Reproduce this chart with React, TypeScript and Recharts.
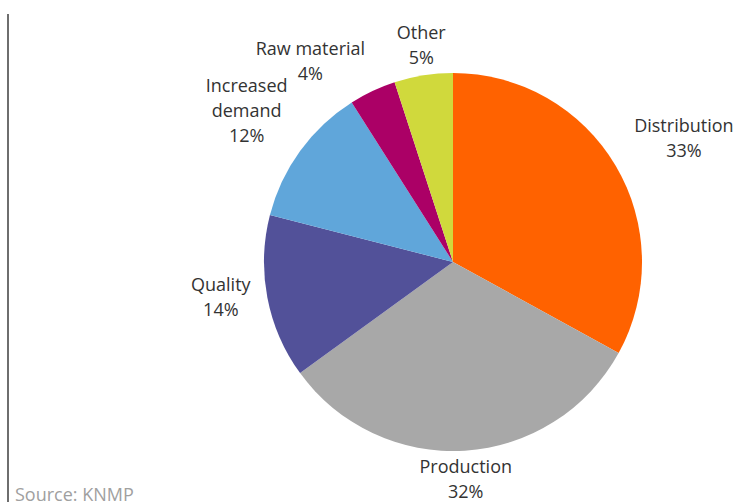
import { PieChart, Pie, Cell } from "recharts";

const categories = [
  "Distribution",
  "Production",
  "Quality",
  "Increased\ndemand",
  "Raw material",
  "Other",
];
const shares = [33, 32, 14, 12, 4, 5];
const colors = ["#FF6200", "#A8A8A8", "#525199", "#60A6DA", "#AB0066", "#D0D93C"];
const sourceNote = "Source: KNMP";

const data = categories.map((name, i) => ({ name, value: shares[i] }));

const RADIAN = Math.PI / 180;
const FONT = "'Open Sans', sans-serif";
const FONT_SIZE = 18;
const LINE_H = 25;

// label box sits just outside the rim; pushed fully out on the side it faces
// eslint-disable-next-line @typescript-eslint/no-explicit-any
function SliceLabel(props: any) {
  const { cx, cy, midAngle, outerRadius, name, value } = props;
  const lines: string[] = [...String(name).split("\n"), `${value}%`];
  const longest = Math.max(...lines.map((l) => l.length));
  const hw = (longest * FONT_SIZE * 0.52) / 2;
  const hh = (lines.length * LINE_H) / 2;
  const cos = Math.cos(-midAngle * RADIAN);
  const sin = Math.sin(-midAngle * RADIAN);
  const side = (v: number) => (Math.abs(v) > 0.3 ? Math.sign(v) : 0);
  const x = cx + (outerRadius + 14) * cos + hw * side(cos);
  const y = cy + (outerRadius + 4) * sin + hh * side(sin);
  const top = y - hh + LINE_H * 0.72;
  return (
    <text
      x={x}
      y={top}
      textAnchor="middle"
      fill="#333"
      fontFamily={FONT}
      fontSize={FONT_SIZE}
    >
      {lines.map((l, i) => (
        <tspan key={i} x={x} y={top + i * LINE_H}>
          {l}
        </tspan>
      ))}
    </text>
  );
}

export default function App() {
  return (
    <div
      style={{
        position: "absolute",
        left: 0,
        top: 0,
        width: 733,
        height: 502,
        overflow: "hidden",
        background: "#fff",
      }}
    >
      <PieChart width={733} height={502} margin={{ top: 0, right: 0, bottom: 0, left: 0 }}>
        <Pie
          data={data}
          dataKey="value"
          nameKey="name"
          cx={453}
          cy={262}
          outerRadius={189}
          startAngle={90}
          endAngle={-270}
          stroke="none"
          label={SliceLabel}
          labelLine={false}
          isAnimationActive={false}
        >
          {data.map((d, i) => (
            <Cell key={d.name} fill={colors[i]} />
          ))}
        </Pie>
      </PieChart>
      <svg
        width={733}
        height={502}
        style={{ position: "absolute", left: 0, top: 0, pointerEvents: "none" }}
      >
        <line x1={8} y1={14} x2={8} y2={502} stroke="#6e6e6e" strokeWidth={2} />
        <text x={15} y={501} fill="#a0a0a0" fontFamily={FONT} fontSize={FONT_SIZE}>
          {sourceNote}
        </text>
      </svg>
    </div>
  );
}
